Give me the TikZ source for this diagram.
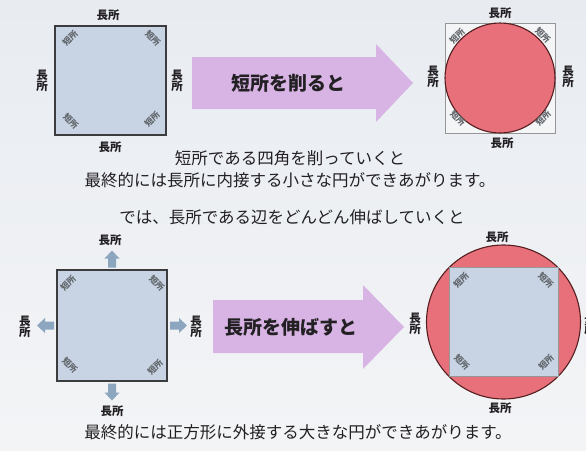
\documentclass[tikz,border=0pt]{standalone}
\usepackage{fontspec}
\setmainfont{Noto Sans CJK JP}
\usepackage{tikz}

\definecolor{bgtop}{RGB}{232,236,241}
\definecolor{bgbot}{RGB}{243,244,246}
\definecolor{sqfill}{RGB}{200,212,228}
\definecolor{sqedge}{RGB}{60,60,62}
\definecolor{thinedge}{RGB}{150,150,150}
\definecolor{boxwhite}{RGB}{244,245,246}
\definecolor{roundfill}{RGB}{232,112,122}
\definecolor{roundedge}{RGB}{85,30,32}
\definecolor{purp}{RGB}{216,180,228}
\definecolor{steel}{RGB}{140,166,192}
\definecolor{txtcol}{RGB}{35,32,36}
\definecolor{cornercol}{RGB}{95,100,105}

\begin{document}
\begin{tikzpicture}[x=1pt, y=-1pt,
    lbl/.style={font=\fontsize{11.5}{11.5}\selectfont\bfseries, text=txtcol, inner sep=0pt},
    vlbl/.style={lbl, align=center},
    corner/.style={font=\fontsize{8.5}{8.5}\selectfont\bfseries, text=cornercol, inner sep=0pt},
    msg/.style={font=\fontsize{16.5}{16.5}\selectfont, text=txtcol, inner sep=0pt},
    bigtext/.style={font=\fontsize{19}{19}\selectfont\bfseries, text=txtcol, inner sep=0pt},
    sq/.style={fill=sqfill, draw=sqedge, line width=1.4pt},
    round/.style={fill=roundfill, draw=roundedge, line width=1.1pt}]

    % Background
    \useasboundingbox (0,0) rectangle (586,450);
    \shade[top color=bgtop, bottom color=bgbot] (0,0) rectangle (586,450);

    % Square at top left
    \draw[sq] (55,26) rectangle (166,135);
    \node[lbl] (sqtop) at (108,15) {長所};
    \node[lbl] (sqbot) at (110,147) {長所};
    \node[vlbl] (sqleft) at (42,81) {長\\所};
    \node[vlbl] (sqright) at (177,81) {長\\所};
    \node[corner, rotate=45] (sqtl) at (70,38) {短所};
    \node[corner, rotate=-45] (sqtr) at (153,38) {短所};
    \node[corner, rotate=-45] (sqbl) at (71,121) {短所};
    \node[corner, rotate=45] (sqbr) at (152,119) {短所};

    % Arrow: cut the short parts
    \fill[purp] (192,57) -- (376,57) -- (376,44) -- (413,83) -- (376,122) -- (376,109) -- (192,109) -- cycle;
    \node[bigtext] (cut) at (288,83) {短所を削ると};

    % Circle inside the square, top right
    \draw[fill=boxwhite, draw=thinedge, line width=0.7pt] (445,23) rectangle (555,133);
    \draw[round] (500,78) circle (55);
    \node[lbl] (intop) at (500,13) {長所};
    \node[lbl] (inbot) at (502,143) {長所};
    \node[vlbl] (inleft) at (433,77) {長\\所};
    \node[vlbl] (inright) at (568,77) {長\\所};
    \node[corner, rotate=45] (intl) at (457,36) {短所};
    \node[corner, rotate=-45] (intr) at (543,35) {短所};
    \node[corner, rotate=-45] (inbl) at (458,118) {短所};
    \node[corner, rotate=45] (inbr) at (543,118) {短所};

    % Text in the middle
    \node[msg] (msga) at (290,158) {短所である四角を削っていくと};
    \node[msg] (msgb) at (290,180) {最終的には長所に内接する小さな円ができあがります。};
    \node[msg] (msgc) at (292,217) {では、長所である辺をどんどん伸ばしていくと};

    % Square at bottom left, with small arrows
    \draw[sq] (57,270) rectangle (167,381);
    \foreach \a in {0,90,180,270}
      \fill[steel, shift={(112,325.5)}, rotate=\a]
        (58,-4) -- (67,-4) -- (67,-7.5) -- (75,0) -- (67,7.5) -- (67,4) -- (58,4) -- cycle;
    \node[lbl] (grtop) at (110,240) {長所};
    \node[lbl] (grbot) at (112,411) {長所};
    \node[vlbl] (grleft) at (25,327) {長\\所};
    \node[vlbl] (grright) at (196,327) {長\\所};
    \node[corner, rotate=45] (grtl) at (68,283) {短所};
    \node[corner, rotate=-45] (grtr) at (157,283) {短所};
    \node[corner, rotate=-45] (grbl) at (70,365) {短所};
    \node[corner, rotate=45] (grbr) at (155,367) {短所};

    % Arrow: stretch the long parts
    \fill[purp] (213,300) -- (363,300) -- (363,285) -- (404,327) -- (363,369) -- (363,353) -- (213,353) -- cycle;
    \node[bigtext] (grow) at (291,327) {長所を伸ばすと};

    % Square inside the circle, bottom right
    \draw[round] (503.5,322) circle (77);
    \draw[fill=sqfill, draw=thinedge, line width=0.8pt] (449,267.5) rectangle (558,376.5);
    \node[lbl] (outtop) at (497,237) {長所};
    \node[lbl] (outbot) at (500,408) {長所};
    \node[vlbl] (outleft) at (415,324) {長\\所};
    \node[vlbl] (outright) at (590,324) {長\\所};
    \node[corner, rotate=45] (outtl) at (461,280) {短所};
    \node[corner, rotate=-45] (outtr) at (546,280) {短所};
    \node[corner, rotate=-45] (outbl) at (462,362) {短所};
    \node[corner, rotate=45] (outbr) at (546,362) {短所};

    % Text at the bottom
    \node[msg] (msgd) at (298,432) {最終的には正方形に外接する大きな円ができあがります。};
\end{tikzpicture}
\end{document}
